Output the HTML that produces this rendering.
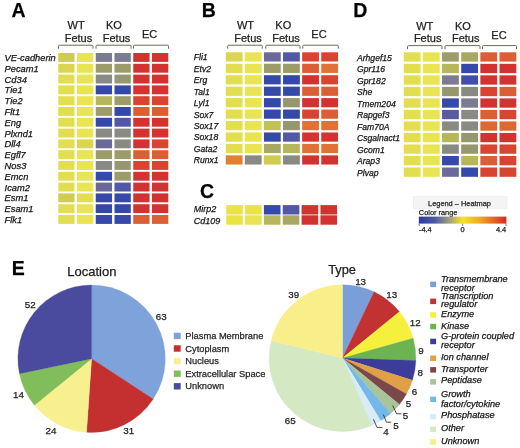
<!DOCTYPE html>
<html><head><meta charset="utf-8"><style>
html,body{margin:0;padding:0;background:#fff;width:520px;height:448px;overflow:hidden}
svg{display:block;will-change:transform;filter:blur(0.35px)}
text{font-family:"Liberation Sans",sans-serif;fill:#1e1e1e;stroke:#1e1e1e;stroke-width:0.25px}
.gi{font-style:italic;fill:#141414;stroke:#141414}
.pl{font-weight:bold;fill:#000}
.hd{fill:#1e1e1e}
.br{fill:none;stroke:#6e6852;stroke-width:1}
.nm{fill:#222}
.lt{fill:#2a2a2a}
.ti{font-style:italic;fill:#141414;stroke:#141414}
.tt{fill:#1a1a1a}
</style></head><body>
<svg width="520" height="448" viewBox="0 0 520 448">
<rect width="520" height="448" fill="#fff"/>
<text x="11.40" y="17.00" font-size="19.5" text-anchor="start" class="pl">A</text>
<text x="201.80" y="17.40" font-size="19.5" text-anchor="start" class="pl">B</text>
<text x="353.20" y="16.70" font-size="19.5" text-anchor="start" class="pl">D</text>
<text x="200.00" y="197.50" font-size="19.5" text-anchor="start" class="pl">C</text>
<text x="11.80" y="274.90" font-size="19.5" text-anchor="start" class="pl">E</text>
<rect x="58.25" y="53.00" width="16.30" height="8.90" fill="#d0cc4e"/>
<rect x="77.00" y="53.00" width="16.30" height="8.90" fill="#e8e452"/>
<rect x="95.75" y="53.00" width="16.30" height="8.90" fill="#7c7c90"/>
<rect x="114.50" y="53.00" width="16.30" height="8.90" fill="#7c7c90"/>
<rect x="133.25" y="53.00" width="16.30" height="8.90" fill="#d33330"/>
<rect x="152.00" y="53.00" width="16.30" height="8.90" fill="#d33330"/>
<text x="4.60" y="61.00" font-size="9.3" text-anchor="start" class="gi">VE-cadherin</text>
<rect x="58.25" y="63.80" width="16.30" height="8.90" fill="#dad650"/>
<rect x="77.00" y="63.80" width="16.30" height="8.90" fill="#e8e452"/>
<rect x="95.75" y="63.80" width="16.30" height="8.90" fill="#9c9c6a"/>
<rect x="114.50" y="63.80" width="16.30" height="8.90" fill="#9c9c6a"/>
<rect x="133.25" y="63.80" width="16.30" height="8.90" fill="#d33330"/>
<rect x="152.00" y="63.80" width="16.30" height="8.90" fill="#d33330"/>
<text x="4.60" y="71.80" font-size="9.3" text-anchor="start" class="gi">Pecam1</text>
<rect x="58.25" y="74.60" width="16.30" height="8.90" fill="#e2de50"/>
<rect x="77.00" y="74.60" width="16.30" height="8.90" fill="#e8e452"/>
<rect x="95.75" y="74.60" width="16.30" height="8.90" fill="#8a8a84"/>
<rect x="114.50" y="74.60" width="16.30" height="8.90" fill="#96966f"/>
<rect x="133.25" y="74.60" width="16.30" height="8.90" fill="#d33330"/>
<rect x="152.00" y="74.60" width="16.30" height="8.90" fill="#d33330"/>
<text x="4.60" y="82.60" font-size="9.3" text-anchor="start" class="gi">Cd34</text>
<rect x="58.25" y="85.40" width="16.30" height="8.90" fill="#e2de50"/>
<rect x="77.00" y="85.40" width="16.30" height="8.90" fill="#e8e452"/>
<rect x="95.75" y="85.40" width="16.30" height="8.90" fill="#3449aa"/>
<rect x="114.50" y="85.40" width="16.30" height="8.90" fill="#3449aa"/>
<rect x="133.25" y="85.40" width="16.30" height="8.90" fill="#d33330"/>
<rect x="152.00" y="85.40" width="16.30" height="8.90" fill="#d33330"/>
<text x="4.60" y="93.40" font-size="9.3" text-anchor="start" class="gi">Tie1</text>
<rect x="58.25" y="96.20" width="16.30" height="8.90" fill="#e2de50"/>
<rect x="77.00" y="96.20" width="16.30" height="8.90" fill="#e8e452"/>
<rect x="95.75" y="96.20" width="16.30" height="8.90" fill="#b6b65a"/>
<rect x="114.50" y="96.20" width="16.30" height="8.90" fill="#9c9c6a"/>
<rect x="133.25" y="96.20" width="16.30" height="8.90" fill="#d84430"/>
<rect x="152.00" y="96.20" width="16.30" height="8.90" fill="#d84430"/>
<text x="4.60" y="104.20" font-size="9.3" text-anchor="start" class="gi">Tie2</text>
<rect x="58.25" y="107.00" width="16.30" height="8.90" fill="#e2de50"/>
<rect x="77.00" y="107.00" width="16.30" height="8.90" fill="#e8e452"/>
<rect x="95.75" y="107.00" width="16.30" height="8.90" fill="#9c9c6a"/>
<rect x="114.50" y="107.00" width="16.30" height="8.90" fill="#3449aa"/>
<rect x="133.25" y="107.00" width="16.30" height="8.90" fill="#dc5e34"/>
<rect x="152.00" y="107.00" width="16.30" height="8.90" fill="#dc5e34"/>
<text x="4.60" y="115.00" font-size="9.3" text-anchor="start" class="gi">Flt1</text>
<rect x="58.25" y="117.80" width="16.30" height="8.90" fill="#e2de50"/>
<rect x="77.00" y="117.80" width="16.30" height="8.90" fill="#e8e452"/>
<rect x="95.75" y="117.80" width="16.30" height="8.90" fill="#3449aa"/>
<rect x="114.50" y="117.80" width="16.30" height="8.90" fill="#5258a8"/>
<rect x="133.25" y="117.80" width="16.30" height="8.90" fill="#d33330"/>
<rect x="152.00" y="117.80" width="16.30" height="8.90" fill="#d33330"/>
<text x="4.60" y="125.80" font-size="9.3" text-anchor="start" class="gi">Eng</text>
<rect x="58.25" y="128.60" width="16.30" height="8.90" fill="#e2de50"/>
<rect x="77.00" y="128.60" width="16.30" height="8.90" fill="#e8e452"/>
<rect x="95.75" y="128.60" width="16.30" height="8.90" fill="#8a8a84"/>
<rect x="114.50" y="128.60" width="16.30" height="8.90" fill="#8a8a84"/>
<rect x="133.25" y="128.60" width="16.30" height="8.90" fill="#d33330"/>
<rect x="152.00" y="128.60" width="16.30" height="8.90" fill="#d33330"/>
<text x="4.60" y="136.60" font-size="9.3" text-anchor="start" class="gi">Plxnd1</text>
<rect x="58.25" y="139.40" width="16.30" height="8.90" fill="#e2de50"/>
<rect x="77.00" y="139.40" width="16.30" height="8.90" fill="#dad650"/>
<rect x="95.75" y="139.40" width="16.30" height="8.90" fill="#6a6a9a"/>
<rect x="114.50" y="139.40" width="16.30" height="8.90" fill="#8a8a84"/>
<rect x="133.25" y="139.40" width="16.30" height="8.90" fill="#d33330"/>
<rect x="152.00" y="139.40" width="16.30" height="8.90" fill="#d84430"/>
<text x="4.60" y="147.40" font-size="9.3" text-anchor="start" class="gi">Dll4</text>
<rect x="58.25" y="150.20" width="16.30" height="8.90" fill="#e2de50"/>
<rect x="77.00" y="150.20" width="16.30" height="8.90" fill="#e8e452"/>
<rect x="95.75" y="150.20" width="16.30" height="8.90" fill="#9c9c6a"/>
<rect x="114.50" y="150.20" width="16.30" height="8.90" fill="#9c9c6a"/>
<rect x="133.25" y="150.20" width="16.30" height="8.90" fill="#dc5e34"/>
<rect x="152.00" y="150.20" width="16.30" height="8.90" fill="#dc5e34"/>
<text x="4.60" y="158.20" font-size="9.3" text-anchor="start" class="gi">Egfl7</text>
<rect x="58.25" y="161.00" width="16.30" height="8.90" fill="#e2de50"/>
<rect x="77.00" y="161.00" width="16.30" height="8.90" fill="#e8e452"/>
<rect x="95.75" y="161.00" width="16.30" height="8.90" fill="#8a8a84"/>
<rect x="114.50" y="161.00" width="16.30" height="8.90" fill="#96966f"/>
<rect x="133.25" y="161.00" width="16.30" height="8.90" fill="#d84430"/>
<rect x="152.00" y="161.00" width="16.30" height="8.90" fill="#d84430"/>
<text x="4.60" y="169.00" font-size="9.3" text-anchor="start" class="gi">Nos3</text>
<rect x="58.25" y="171.80" width="16.30" height="8.90" fill="#e2de50"/>
<rect x="77.00" y="171.80" width="16.30" height="8.90" fill="#e8e452"/>
<rect x="95.75" y="171.80" width="16.30" height="8.90" fill="#3449aa"/>
<rect x="114.50" y="171.80" width="16.30" height="8.90" fill="#9c9c6a"/>
<rect x="133.25" y="171.80" width="16.30" height="8.90" fill="#d33330"/>
<rect x="152.00" y="171.80" width="16.30" height="8.90" fill="#d33330"/>
<text x="4.60" y="179.80" font-size="9.3" text-anchor="start" class="gi">Emcn</text>
<rect x="58.25" y="182.60" width="16.30" height="8.90" fill="#e2de50"/>
<rect x="77.00" y="182.60" width="16.30" height="8.90" fill="#e8e452"/>
<rect x="95.75" y="182.60" width="16.30" height="8.90" fill="#6a6a9a"/>
<rect x="114.50" y="182.60" width="16.30" height="8.90" fill="#5258a8"/>
<rect x="133.25" y="182.60" width="16.30" height="8.90" fill="#d33330"/>
<rect x="152.00" y="182.60" width="16.30" height="8.90" fill="#d33330"/>
<text x="4.60" y="190.60" font-size="9.3" text-anchor="start" class="gi">Icam2</text>
<rect x="58.25" y="193.40" width="16.30" height="8.90" fill="#d0cc4e"/>
<rect x="77.00" y="193.40" width="16.30" height="8.90" fill="#e2de50"/>
<rect x="95.75" y="193.40" width="16.30" height="8.90" fill="#3449aa"/>
<rect x="114.50" y="193.40" width="16.30" height="8.90" fill="#3449aa"/>
<rect x="133.25" y="193.40" width="16.30" height="8.90" fill="#d33330"/>
<rect x="152.00" y="193.40" width="16.30" height="8.90" fill="#d33330"/>
<text x="4.60" y="201.40" font-size="9.3" text-anchor="start" class="gi">Esm1</text>
<rect x="58.25" y="204.20" width="16.30" height="8.90" fill="#e2de50"/>
<rect x="77.00" y="204.20" width="16.30" height="8.90" fill="#e8e452"/>
<rect x="95.75" y="204.20" width="16.30" height="8.90" fill="#3449aa"/>
<rect x="114.50" y="204.20" width="16.30" height="8.90" fill="#3449aa"/>
<rect x="133.25" y="204.20" width="16.30" height="8.90" fill="#d33330"/>
<rect x="152.00" y="204.20" width="16.30" height="8.90" fill="#d33330"/>
<text x="4.60" y="212.20" font-size="9.3" text-anchor="start" class="gi">Esam1</text>
<rect x="58.25" y="215.00" width="16.30" height="8.90" fill="#e2de50"/>
<rect x="77.00" y="215.00" width="16.30" height="8.90" fill="#e8e452"/>
<rect x="95.75" y="215.00" width="16.30" height="8.90" fill="#3449aa"/>
<rect x="114.50" y="215.00" width="16.30" height="8.90" fill="#3449aa"/>
<rect x="133.25" y="215.00" width="16.30" height="8.90" fill="#dc5e34"/>
<rect x="152.00" y="215.00" width="16.30" height="8.90" fill="#dc5e34"/>
<text x="4.60" y="223.00" font-size="9.3" text-anchor="start" class="gi">Flk1</text>
<text x="76.15" y="29.20" font-size="11" text-anchor="middle" class="hd">WT</text>
<text x="78.45" y="41.50" font-size="11" text-anchor="middle" class="hd">Fetus</text>
<text x="113.85" y="29.20" font-size="11" text-anchor="middle" class="hd">KO</text>
<text x="116.55" y="41.50" font-size="11" text-anchor="middle" class="hd">Fetus</text>
<text x="149.60" y="37.70" font-size="11" text-anchor="middle" class="hd">EC</text>
<path d="M58.50,48.70 L58.50,46.20 Q58.50,45.20 59.50,45.20 L92.00,45.20 Q93.00,45.20 93.00,46.20 L93.00,48.70" class="br"/>
<path d="M96.00,48.70 L96.00,46.20 Q96.00,45.20 97.00,45.20 L130.00,45.20 Q131.00,45.20 131.00,46.20 L131.00,48.70" class="br"/>
<path d="M133.50,48.70 L133.50,46.20 Q133.50,45.20 134.50,45.20 L167.50,45.20 Q168.50,45.20 168.50,46.20 L168.50,48.70" class="br"/>
<rect x="225.75" y="52.30" width="16.80" height="9.20" fill="#dad650"/>
<rect x="244.85" y="52.30" width="16.80" height="9.20" fill="#e8e452"/>
<rect x="263.95" y="52.30" width="16.80" height="9.20" fill="#6a6a9a"/>
<rect x="283.05" y="52.30" width="16.80" height="9.20" fill="#5258a8"/>
<rect x="302.15" y="52.30" width="16.80" height="9.20" fill="#d84430"/>
<rect x="321.25" y="52.30" width="16.80" height="9.20" fill="#d84430"/>
<text x="193.80" y="60.30" font-size="8.6" text-anchor="start" class="gi">Fli1</text>
<rect x="225.75" y="63.75" width="16.80" height="9.20" fill="#e2de50"/>
<rect x="244.85" y="63.75" width="16.80" height="9.20" fill="#e8e452"/>
<rect x="263.95" y="63.75" width="16.80" height="9.20" fill="#9c9c6a"/>
<rect x="283.05" y="63.75" width="16.80" height="9.20" fill="#9c9c6a"/>
<rect x="302.15" y="63.75" width="16.80" height="9.20" fill="#dc5e34"/>
<rect x="321.25" y="63.75" width="16.80" height="9.20" fill="#e07236"/>
<text x="193.80" y="71.75" font-size="8.6" text-anchor="start" class="gi">Etv2</text>
<rect x="225.75" y="75.20" width="16.80" height="9.20" fill="#e2de50"/>
<rect x="244.85" y="75.20" width="16.80" height="9.20" fill="#e8e452"/>
<rect x="263.95" y="75.20" width="16.80" height="9.20" fill="#3449aa"/>
<rect x="283.05" y="75.20" width="16.80" height="9.20" fill="#3449aa"/>
<rect x="302.15" y="75.20" width="16.80" height="9.20" fill="#d33330"/>
<rect x="321.25" y="75.20" width="16.80" height="9.20" fill="#d84430"/>
<text x="193.80" y="83.20" font-size="8.6" text-anchor="start" class="gi">Erg</text>
<rect x="225.75" y="86.65" width="16.80" height="9.20" fill="#e2de50"/>
<rect x="244.85" y="86.65" width="16.80" height="9.20" fill="#e8e452"/>
<rect x="263.95" y="86.65" width="16.80" height="9.20" fill="#3449aa"/>
<rect x="283.05" y="86.65" width="16.80" height="9.20" fill="#3449aa"/>
<rect x="302.15" y="86.65" width="16.80" height="9.20" fill="#dc5e34"/>
<rect x="321.25" y="86.65" width="16.80" height="9.20" fill="#dc5e34"/>
<text x="193.80" y="94.65" font-size="8.6" text-anchor="start" class="gi">Tal1</text>
<rect x="225.75" y="98.10" width="16.80" height="9.20" fill="#e2de50"/>
<rect x="244.85" y="98.10" width="16.80" height="9.20" fill="#e8e452"/>
<rect x="263.95" y="98.10" width="16.80" height="9.20" fill="#3449aa"/>
<rect x="283.05" y="98.10" width="16.80" height="9.20" fill="#96966f"/>
<rect x="302.15" y="98.10" width="16.80" height="9.20" fill="#d33330"/>
<rect x="321.25" y="98.10" width="16.80" height="9.20" fill="#d33330"/>
<text x="193.80" y="106.10" font-size="8.6" text-anchor="start" class="gi">Lyl1</text>
<rect x="225.75" y="109.55" width="16.80" height="9.20" fill="#e2de50"/>
<rect x="244.85" y="109.55" width="16.80" height="9.20" fill="#e8e452"/>
<rect x="263.95" y="109.55" width="16.80" height="9.20" fill="#3449aa"/>
<rect x="283.05" y="109.55" width="16.80" height="9.20" fill="#3449aa"/>
<rect x="302.15" y="109.55" width="16.80" height="9.20" fill="#d84430"/>
<rect x="321.25" y="109.55" width="16.80" height="9.20" fill="#dc5e34"/>
<text x="193.80" y="117.55" font-size="8.6" text-anchor="start" class="gi">Sox7</text>
<rect x="225.75" y="121.00" width="16.80" height="9.20" fill="#e2de50"/>
<rect x="244.85" y="121.00" width="16.80" height="9.20" fill="#e8e452"/>
<rect x="263.95" y="121.00" width="16.80" height="9.20" fill="#c2c254"/>
<rect x="283.05" y="121.00" width="16.80" height="9.20" fill="#96966f"/>
<rect x="302.15" y="121.00" width="16.80" height="9.20" fill="#e07236"/>
<rect x="321.25" y="121.00" width="16.80" height="9.20" fill="#e07236"/>
<text x="193.80" y="129.00" font-size="8.6" text-anchor="start" class="gi">Sox17</text>
<rect x="225.75" y="132.45" width="16.80" height="9.20" fill="#e2de50"/>
<rect x="244.85" y="132.45" width="16.80" height="9.20" fill="#e8e452"/>
<rect x="263.95" y="132.45" width="16.80" height="9.20" fill="#3449aa"/>
<rect x="283.05" y="132.45" width="16.80" height="9.20" fill="#5258a8"/>
<rect x="302.15" y="132.45" width="16.80" height="9.20" fill="#d33330"/>
<rect x="321.25" y="132.45" width="16.80" height="9.20" fill="#d33330"/>
<text x="193.80" y="140.45" font-size="8.6" text-anchor="start" class="gi">Sox18</text>
<rect x="225.75" y="143.90" width="16.80" height="9.20" fill="#e2de50"/>
<rect x="244.85" y="143.90" width="16.80" height="9.20" fill="#e8e452"/>
<rect x="263.95" y="143.90" width="16.80" height="9.20" fill="#a8a862"/>
<rect x="283.05" y="143.90" width="16.80" height="9.20" fill="#b6b65a"/>
<rect x="302.15" y="143.90" width="16.80" height="9.20" fill="#e07236"/>
<rect x="321.25" y="143.90" width="16.80" height="9.20" fill="#e07236"/>
<text x="193.80" y="151.90" font-size="8.6" text-anchor="start" class="gi">Gata2</text>
<rect x="225.75" y="155.35" width="16.80" height="9.20" fill="#e08032"/>
<rect x="244.85" y="155.35" width="16.80" height="9.20" fill="#8a8a84"/>
<rect x="263.95" y="155.35" width="16.80" height="9.20" fill="#d0cc4e"/>
<rect x="283.05" y="155.35" width="16.80" height="9.20" fill="#8a8a84"/>
<rect x="302.15" y="155.35" width="16.80" height="9.20" fill="#d33330"/>
<rect x="321.25" y="155.35" width="16.80" height="9.20" fill="#d33330"/>
<text x="193.80" y="163.35" font-size="8.6" text-anchor="start" class="gi">Runx1</text>
<text x="245.45" y="29.40" font-size="11" text-anchor="middle" class="hd">WT</text>
<text x="248.00" y="41.50" font-size="11" text-anchor="middle" class="hd">Fetus</text>
<text x="283.25" y="29.40" font-size="11" text-anchor="middle" class="hd">KO</text>
<text x="286.05" y="41.50" font-size="11" text-anchor="middle" class="hd">Fetus</text>
<text x="319.00" y="37.70" font-size="11" text-anchor="middle" class="hd">EC</text>
<path d="M227.70,48.70 L227.70,46.20 Q227.70,45.20 228.70,45.20 L261.30,45.20 Q262.30,45.20 262.30,46.20 L262.30,48.70" class="br"/>
<path d="M265.80,48.70 L265.80,46.20 Q265.80,45.20 266.80,45.20 L299.00,45.20 Q300.00,45.20 300.00,46.20 L300.00,48.70" class="br"/>
<path d="M302.80,48.70 L302.80,46.20 Q302.80,45.20 303.80,45.20 L337.30,45.20 Q338.30,45.20 338.30,46.20 L338.30,48.70" class="br"/>
<rect x="226.20" y="205.10" width="16.60" height="9.40" fill="#eae442"/>
<rect x="245.05" y="205.10" width="16.60" height="9.40" fill="#eae442"/>
<rect x="263.90" y="205.10" width="16.60" height="9.40" fill="#3449aa"/>
<rect x="282.75" y="205.10" width="16.60" height="9.40" fill="#5258a8"/>
<rect x="301.60" y="205.10" width="16.60" height="9.40" fill="#d33330"/>
<rect x="320.45" y="205.10" width="16.60" height="9.40" fill="#d33330"/>
<text x="193.80" y="212.10" font-size="9" text-anchor="start" class="gi">Mirp2</text>
<rect x="226.20" y="215.30" width="16.60" height="9.40" fill="#eae442"/>
<rect x="245.05" y="215.30" width="16.60" height="9.40" fill="#e8e452"/>
<rect x="263.90" y="215.30" width="16.60" height="9.40" fill="#b6b65a"/>
<rect x="282.75" y="215.30" width="16.60" height="9.40" fill="#a8a862"/>
<rect x="301.60" y="215.30" width="16.60" height="9.40" fill="#d33330"/>
<rect x="320.45" y="215.30" width="16.60" height="9.40" fill="#d33330"/>
<text x="193.80" y="223.50" font-size="9" text-anchor="start" class="gi">Cd109</text>
<rect x="403.75" y="52.30" width="16.80" height="9.30" fill="#e2de50"/>
<rect x="422.90" y="52.30" width="16.80" height="9.30" fill="#e8e452"/>
<rect x="442.05" y="52.30" width="16.80" height="9.30" fill="#9c9c6a"/>
<rect x="461.20" y="52.30" width="16.80" height="9.30" fill="#a8a862"/>
<rect x="480.35" y="52.30" width="16.80" height="9.30" fill="#dc5e34"/>
<rect x="499.50" y="52.30" width="16.80" height="9.30" fill="#dc5e34"/>
<text x="357.00" y="60.60" font-size="8.6" text-anchor="start" class="gi">Arhgef15</text>
<rect x="403.75" y="63.82" width="16.80" height="9.30" fill="#e2de50"/>
<rect x="422.90" y="63.82" width="16.80" height="9.30" fill="#e8e452"/>
<rect x="442.05" y="63.82" width="16.80" height="9.30" fill="#b6b65a"/>
<rect x="461.20" y="63.82" width="16.80" height="9.30" fill="#3449aa"/>
<rect x="480.35" y="63.82" width="16.80" height="9.30" fill="#d33330"/>
<rect x="499.50" y="63.82" width="16.80" height="9.30" fill="#d33330"/>
<text x="357.00" y="72.12" font-size="8.6" text-anchor="start" class="gi">Gpr116</text>
<rect x="403.75" y="75.34" width="16.80" height="9.30" fill="#e2de50"/>
<rect x="422.90" y="75.34" width="16.80" height="9.30" fill="#e8e452"/>
<rect x="442.05" y="75.34" width="16.80" height="9.30" fill="#7c7c90"/>
<rect x="461.20" y="75.34" width="16.80" height="9.30" fill="#3e4eaa"/>
<rect x="480.35" y="75.34" width="16.80" height="9.30" fill="#d33330"/>
<rect x="499.50" y="75.34" width="16.80" height="9.30" fill="#d33330"/>
<text x="357.00" y="83.64" font-size="8.6" text-anchor="start" class="gi">Gpr182</text>
<rect x="403.75" y="86.86" width="16.80" height="9.30" fill="#e2de50"/>
<rect x="422.90" y="86.86" width="16.80" height="9.30" fill="#e8e452"/>
<rect x="442.05" y="86.86" width="16.80" height="9.30" fill="#96966f"/>
<rect x="461.20" y="86.86" width="16.80" height="9.30" fill="#8a8a84"/>
<rect x="480.35" y="86.86" width="16.80" height="9.30" fill="#d84430"/>
<rect x="499.50" y="86.86" width="16.80" height="9.30" fill="#dc5e34"/>
<text x="357.00" y="95.16" font-size="8.6" text-anchor="start" class="gi">She</text>
<rect x="403.75" y="98.38" width="16.80" height="9.30" fill="#e2de50"/>
<rect x="422.90" y="98.38" width="16.80" height="9.30" fill="#e8e452"/>
<rect x="442.05" y="98.38" width="16.80" height="9.30" fill="#3449aa"/>
<rect x="461.20" y="98.38" width="16.80" height="9.30" fill="#7c7c90"/>
<rect x="480.35" y="98.38" width="16.80" height="9.30" fill="#d33330"/>
<rect x="499.50" y="98.38" width="16.80" height="9.30" fill="#d33330"/>
<text x="357.00" y="106.68" font-size="8.6" text-anchor="start" class="gi">Tmem204</text>
<rect x="403.75" y="109.90" width="16.80" height="9.30" fill="#e2de50"/>
<rect x="422.90" y="109.90" width="16.80" height="9.30" fill="#e8e452"/>
<rect x="442.05" y="109.90" width="16.80" height="9.30" fill="#5a5aa0"/>
<rect x="461.20" y="109.90" width="16.80" height="9.30" fill="#8a8a84"/>
<rect x="480.35" y="109.90" width="16.80" height="9.30" fill="#dc5e34"/>
<rect x="499.50" y="109.90" width="16.80" height="9.30" fill="#d84430"/>
<text x="357.00" y="118.20" font-size="8.6" text-anchor="start" class="gi">Rapgef3</text>
<rect x="403.75" y="121.42" width="16.80" height="9.30" fill="#e2de50"/>
<rect x="422.90" y="121.42" width="16.80" height="9.30" fill="#e8e452"/>
<rect x="442.05" y="121.42" width="16.80" height="9.30" fill="#8a8a84"/>
<rect x="461.20" y="121.42" width="16.80" height="9.30" fill="#8a8a84"/>
<rect x="480.35" y="121.42" width="16.80" height="9.30" fill="#dd6834"/>
<rect x="499.50" y="121.42" width="16.80" height="9.30" fill="#dd6834"/>
<text x="357.00" y="129.72" font-size="8.6" text-anchor="start" class="gi">Fam70A</text>
<rect x="403.75" y="132.94" width="16.80" height="9.30" fill="#e2de50"/>
<rect x="422.90" y="132.94" width="16.80" height="9.30" fill="#e8e452"/>
<rect x="442.05" y="132.94" width="16.80" height="9.30" fill="#b6b65a"/>
<rect x="461.20" y="132.94" width="16.80" height="9.30" fill="#96966f"/>
<rect x="480.35" y="132.94" width="16.80" height="9.30" fill="#d33330"/>
<rect x="499.50" y="132.94" width="16.80" height="9.30" fill="#d33330"/>
<text x="357.00" y="141.24" font-size="8.6" text-anchor="start" class="gi">Csgalnact1</text>
<rect x="403.75" y="144.46" width="16.80" height="9.30" fill="#e2de50"/>
<rect x="422.90" y="144.46" width="16.80" height="9.30" fill="#e8e452"/>
<rect x="442.05" y="144.46" width="16.80" height="9.30" fill="#8a8a84"/>
<rect x="461.20" y="144.46" width="16.80" height="9.30" fill="#96966f"/>
<rect x="480.35" y="144.46" width="16.80" height="9.30" fill="#d84430"/>
<rect x="499.50" y="144.46" width="16.80" height="9.30" fill="#d84430"/>
<text x="357.00" y="152.76" font-size="8.6" text-anchor="start" class="gi">Gcom1</text>
<rect x="403.75" y="155.98" width="16.80" height="9.30" fill="#e2de50"/>
<rect x="422.90" y="155.98" width="16.80" height="9.30" fill="#e8e452"/>
<rect x="442.05" y="155.98" width="16.80" height="9.30" fill="#3449aa"/>
<rect x="461.20" y="155.98" width="16.80" height="9.30" fill="#b6b65a"/>
<rect x="480.35" y="155.98" width="16.80" height="9.30" fill="#dc5e34"/>
<rect x="499.50" y="155.98" width="16.80" height="9.30" fill="#d84430"/>
<text x="357.00" y="164.28" font-size="8.6" text-anchor="start" class="gi">Arap3</text>
<rect x="403.75" y="167.50" width="16.80" height="9.30" fill="#e2de50"/>
<rect x="422.90" y="167.50" width="16.80" height="9.30" fill="#e8e452"/>
<rect x="442.05" y="167.50" width="16.80" height="9.30" fill="#6a6a9a"/>
<rect x="461.20" y="167.50" width="16.80" height="9.30" fill="#3449aa"/>
<rect x="480.35" y="167.50" width="16.80" height="9.30" fill="#d84430"/>
<rect x="499.50" y="167.50" width="16.80" height="9.30" fill="#d84430"/>
<text x="357.00" y="175.80" font-size="8.6" text-anchor="start" class="gi">Plvap</text>
<text x="424.75" y="30.20" font-size="11" text-anchor="middle" class="hd">WT</text>
<text x="427.65" y="42.40" font-size="11" text-anchor="middle" class="hd">Fetus</text>
<text x="462.85" y="30.20" font-size="11" text-anchor="middle" class="hd">KO</text>
<text x="465.70" y="42.40" font-size="11" text-anchor="middle" class="hd">Fetus</text>
<text x="498.95" y="38.60" font-size="11" text-anchor="middle" class="hd">EC</text>
<path d="M407.50,49.10 L407.50,46.60 Q407.50,45.60 408.50,45.60 L441.00,45.60 Q442.00,45.60 442.00,46.60 L442.00,49.10" class="br"/>
<path d="M445.00,49.10 L445.00,46.60 Q445.00,45.60 446.00,45.60 L479.00,45.60 Q480.00,45.60 480.00,46.60 L480.00,49.10" class="br"/>
<path d="M482.50,49.10 L482.50,46.60 Q482.50,45.60 483.50,45.60 L515.50,45.60 Q516.50,45.60 516.50,46.60 L516.50,49.10" class="br"/>
<rect x="413.5" y="196.5" width="93.5" height="12" fill="#f4f4f4" stroke="#e8e8e8" stroke-width="0.5"/>
<text x="459.50" y="205.80" font-size="7.4" text-anchor="middle" class="lg" fill="#333">Legend – Heatmap</text>
<text x="418.80" y="215.30" font-size="7.4" text-anchor="start" class="lg" fill="#5a4a28">Color range</text>
<defs><linearGradient id="cg" x1="0" x2="1" y1="0" y2="0"><stop offset="0" stop-color="#283c9c"/><stop offset="0.18" stop-color="#4a5aa0"/><stop offset="0.35" stop-color="#a0a080"/><stop offset="0.5" stop-color="#f4e428"/><stop offset="0.7" stop-color="#eca828"/><stop offset="1" stop-color="#d42a24"/></linearGradient></defs>
<rect x="418.8" y="216.6" width="87.6" height="7" fill="url(#cg)"/>
<line x1="419.2" y1="223.6" x2="419.2" y2="226" stroke="#333" stroke-width="0.6"/>
<line x1="462.6" y1="223.6" x2="462.6" y2="226" stroke="#333" stroke-width="0.6"/>
<line x1="506.0" y1="223.6" x2="506.0" y2="226" stroke="#333" stroke-width="0.6"/>
<text x="419.00" y="231.60" font-size="7.4" text-anchor="start" class="lg" fill="#333">-4.4</text>
<text x="462.60" y="231.60" font-size="7.4" text-anchor="middle" class="lg" fill="#333">0</text>
<text x="506.20" y="231.60" font-size="7.4" text-anchor="end" class="lg" fill="#333">4.4</text>
<text x="91.80" y="276.30" font-size="13" text-anchor="middle" class="tt">Location</text>
<path d="M91.60,358.70 L91.60,285.00 A73.7,73.7 0 0 1 153.23,399.12 Z" fill="#7ea2da" stroke="#7ea2da" stroke-width="0.3"/>
<path d="M91.60,358.70 L153.23,399.12 A73.7,73.7 0 0 1 86.57,432.23 Z" fill="#c3302f" stroke="#c3302f" stroke-width="0.3"/>
<path d="M91.60,358.70 L86.57,432.23 A73.7,73.7 0 0 1 34.43,405.21 Z" fill="#f8ef8e" stroke="#f8ef8e" stroke-width="0.3"/>
<path d="M91.60,358.70 L34.43,405.21 A73.7,73.7 0 0 1 19.44,373.69 Z" fill="#82bd5c" stroke="#82bd5c" stroke-width="0.3"/>
<path d="M91.60,358.70 L19.44,373.69 A73.7,73.7 0 0 1 91.60,285.00 Z" fill="#4a4a9e" stroke="#4a4a9e" stroke-width="0.3"/>
<text x="161.20" y="320.20" font-size="9.8" text-anchor="middle" class="nm">63</text>
<text x="128.70" y="434.20" font-size="9.8" text-anchor="middle" class="nm">31</text>
<text x="50.90" y="434.20" font-size="9.8" text-anchor="middle" class="nm">24</text>
<text x="18.40" y="397.80" font-size="9.8" text-anchor="middle" class="nm">14</text>
<text x="30.30" y="308.20" font-size="9.8" text-anchor="middle" class="nm">52</text>
<rect x="173.80" y="332.70" width="6.90" height="6.40" fill="#7ea2da"/>
<text x="185.30" y="339.00" font-size="9.3" text-anchor="start" class="lt">Plasma Membrane</text>
<rect x="173.80" y="345.30" width="6.90" height="6.40" fill="#c3302f"/>
<text x="185.30" y="351.60" font-size="9.3" text-anchor="start" class="lt">Cytoplasm</text>
<rect x="173.80" y="357.90" width="6.90" height="6.40" fill="#f8ef8e"/>
<text x="185.30" y="364.20" font-size="9.3" text-anchor="start" class="lt">Nucleus</text>
<rect x="173.80" y="370.50" width="6.90" height="6.40" fill="#82bd5c"/>
<text x="185.30" y="376.80" font-size="9.3" text-anchor="start" class="lt">Extracellular Space</text>
<rect x="173.80" y="383.10" width="6.90" height="6.40" fill="#4a4a9e"/>
<text x="185.30" y="389.40" font-size="9.3" text-anchor="start" class="lt">Unknown</text>
<text x="342.00" y="274.40" font-size="12.8" text-anchor="middle" class="tt">Type</text>
<path d="M342.50,358.10 L342.50,284.70 A73.4,73.4 0 0 1 374.02,291.81 Z" fill="#7a9fd8" stroke="#7a9fd8" stroke-width="0.3"/>
<path d="M342.50,358.10 L374.02,291.81 A73.4,73.4 0 0 1 399.44,311.78 Z" fill="#c33232" stroke="#c33232" stroke-width="0.3"/>
<path d="M342.50,358.10 L399.44,311.78 A73.4,73.4 0 0 1 413.18,338.30 Z" fill="#f5f03c" stroke="#f5f03c" stroke-width="0.3"/>
<path d="M342.50,358.10 L413.18,338.30 A73.4,73.4 0 0 1 415.86,360.61 Z" fill="#6cb450" stroke="#6cb450" stroke-width="0.3"/>
<path d="M342.50,358.10 L415.86,360.61 A73.4,73.4 0 0 1 412.46,380.30 Z" fill="#3c3c9a" stroke="#3c3c9a" stroke-width="0.3"/>
<path d="M342.50,358.10 L412.46,380.30 A73.4,73.4 0 0 1 406.48,394.07 Z" fill="#e0a048" stroke="#e0a048" stroke-width="0.3"/>
<path d="M342.50,358.10 L406.48,394.07 A73.4,73.4 0 0 1 399.44,404.42 Z" fill="#7a4848" stroke="#7a4848" stroke-width="0.3"/>
<path d="M342.50,358.10 L399.44,404.42 A73.4,73.4 0 0 1 390.74,413.42 Z" fill="#a8c498" stroke="#a8c498" stroke-width="0.3"/>
<path d="M342.50,358.10 L390.74,413.42 A73.4,73.4 0 0 1 380.64,420.81 Z" fill="#74b8ea" stroke="#74b8ea" stroke-width="0.3"/>
<path d="M342.50,358.10 L380.64,420.81 A73.4,73.4 0 0 1 371.74,425.42 Z" fill="#d8ecf8" stroke="#d8ecf8" stroke-width="0.3"/>
<path d="M342.50,358.10 L371.74,425.42 A73.4,73.4 0 0 1 271.19,340.72 Z" fill="#d4e8c4" stroke="#d4e8c4" stroke-width="0.3"/>
<path d="M342.50,358.10 L271.19,340.72 A73.4,73.4 0 0 1 342.50,284.70 Z" fill="#f8ee8a" stroke="#f8ee8a" stroke-width="0.3"/>
<text x="360.60" y="285.20" font-size="9.8" text-anchor="middle" class="nm">13</text>
<text x="391.80" y="298.20" font-size="9.8" text-anchor="middle" class="nm">13</text>
<text x="415.30" y="326.40" font-size="9.8" text-anchor="middle" class="nm">12</text>
<text x="421.10" y="353.80" font-size="9.8" text-anchor="middle" class="nm">9</text>
<text x="420.30" y="376.30" font-size="9.8" text-anchor="middle" class="nm">8</text>
<text x="414.50" y="394.70" font-size="9.8" text-anchor="middle" class="nm">6</text>
<text x="408.50" y="406.80" font-size="9.8" text-anchor="middle" class="nm">5</text>
<text x="405.40" y="419.30" font-size="9.8" text-anchor="middle" class="nm">5</text>
<text x="396.10" y="429.10" font-size="9.8" text-anchor="middle" class="nm">5</text>
<text x="385.90" y="434.50" font-size="9.8" text-anchor="middle" class="nm">4</text>
<text x="293.80" y="298.20" font-size="9.8" text-anchor="middle" class="nm">39</text>
<text x="290.20" y="423.60" font-size="9.8" text-anchor="middle" class="nm">65</text>
<path d="M392.7,405.6 L396.6,413.8 L401.5,413.8" fill="none" stroke="#2a2a2a" stroke-width="0.85"/>
<path d="M383.3,414.5 L386.4,422.2 L391.2,422.2" fill="none" stroke="#2a2a2a" stroke-width="0.85"/>
<path d="M373.4,419.2 L377.0,427.4 L382.5,427.4" fill="none" stroke="#2a2a2a" stroke-width="0.85"/>
<rect x="430.20" y="281.60" width="5.90" height="5.50" fill="#7a9fd8"/>
<rect x="430.20" y="298.60" width="5.90" height="5.50" fill="#c33232"/>
<rect x="430.20" y="312.20" width="5.90" height="5.50" fill="#f5f03c"/>
<rect x="430.20" y="323.80" width="5.90" height="5.50" fill="#6cb450"/>
<rect x="430.20" y="338.70" width="5.90" height="5.50" fill="#3c3c9a"/>
<rect x="430.20" y="355.50" width="5.90" height="5.50" fill="#e0a048"/>
<rect x="430.20" y="367.10" width="5.90" height="5.50" fill="#7a4848"/>
<rect x="430.20" y="379.10" width="5.90" height="5.50" fill="#a8c498"/>
<rect x="430.20" y="396.60" width="5.90" height="5.50" fill="#74b8ea"/>
<rect x="430.20" y="413.90" width="5.90" height="5.50" fill="#d8ecf8"/>
<rect x="430.20" y="426.50" width="5.90" height="5.50" fill="#d4e8c4"/>
<rect x="430.20" y="439.20" width="5.90" height="5.50" fill="#f8ee8a"/>
<text x="441.00" y="282.00" font-size="9.2" text-anchor="start" class="ti">Transmembrane</text>
<text x="441.00" y="291.00" font-size="9.2" text-anchor="start" class="ti">receptor</text>
<text x="441.00" y="299.00" font-size="9.2" text-anchor="start" class="ti">Transcription</text>
<text x="441.00" y="307.20" font-size="9.2" text-anchor="start" class="ti">regulator</text>
<text x="441.00" y="317.30" font-size="9.2" text-anchor="start" class="ti">Enzyme</text>
<text x="441.00" y="328.70" font-size="9.2" text-anchor="start" class="ti">Kinase</text>
<text x="441.00" y="339.30" font-size="9.2" text-anchor="start" class="ti">G-protein coupled</text>
<text x="441.00" y="348.30" font-size="9.2" text-anchor="start" class="ti">receptor</text>
<text x="441.00" y="360.20" font-size="9.2" text-anchor="start" class="ti">Ion channel</text>
<text x="441.00" y="371.80" font-size="9.2" text-anchor="start" class="ti">Transporter</text>
<text x="441.00" y="383.20" font-size="9.2" text-anchor="start" class="ti">Peptidase</text>
<text x="441.00" y="396.60" font-size="9.2" text-anchor="start" class="ti">Growth</text>
<text x="441.00" y="407.30" font-size="9.2" text-anchor="start" class="ti">factor/cytokine</text>
<text x="441.00" y="417.70" font-size="9.2" text-anchor="start" class="ti">Phosphatase</text>
<text x="441.00" y="431.20" font-size="9.2" text-anchor="start" class="ti">Other</text>
<text x="441.00" y="443.80" font-size="9.2" text-anchor="start" class="ti">Unknown</text>
</svg>
</body></html>
